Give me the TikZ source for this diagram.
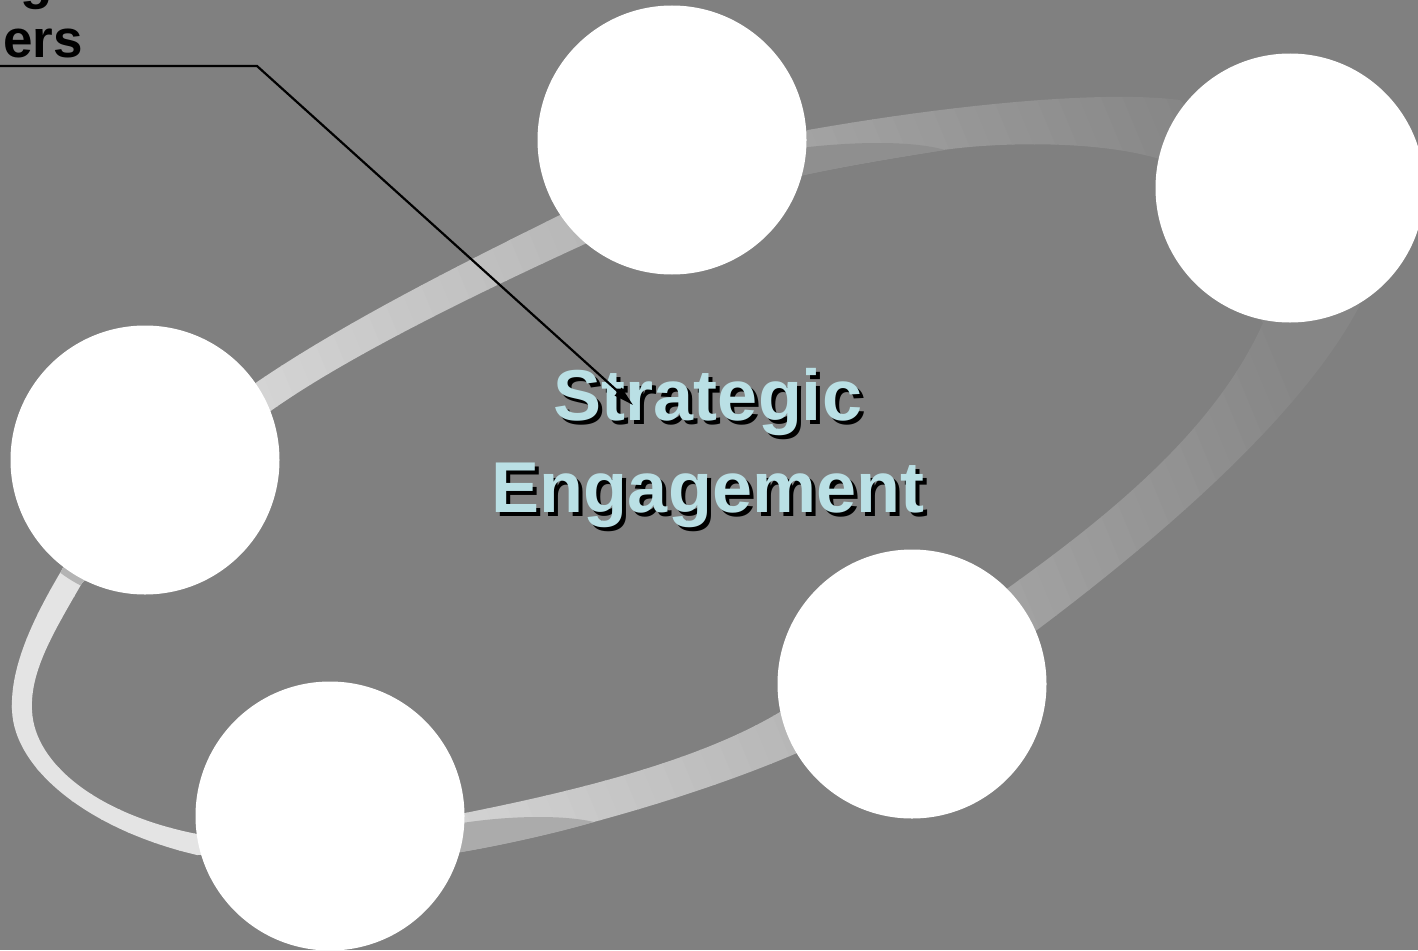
\documentclass[tikz,border=0pt]{standalone}
\usepackage{fontspec}
\setmainfont{Liberation Sans}
\usetikzlibrary{arrows.meta}
\definecolor{bg}{RGB}{128,128,128}
\definecolor{titleblue}{RGB}{186,224,229}
\definecolor{flapbot}{RGB}{171,171,171}
\definecolor{flaptop}{RGB}{143,143,143}
\definecolor{spot}{RGB}{180,180,180}
\begin{document}
\begin{tikzpicture}[x=1pt,y=-1pt,
  disc/.style={circle, fill=white, draw=none, inner sep=0pt, minimum size=269pt},
  lbl/.style={font=\fontsize{53}{60}\selectfont\bfseries, text=black, inner sep=0pt},
  ttl/.style={font=\fontsize{72}{93}\selectfont\bfseries, inner sep=0pt, anchor=base},
  connector/.style={line width=2.2pt, draw=black},
]
\fill[bg] (0,0) rectangle (1418,950);
\useasboundingbox (0,0) rectangle (1418,950);

% ring band (outer edge, then inner edge; even odd rule leaves the ribbon)
\begin{scope}[even odd rule]
\clip
  (63,568) .. controls (35,615) and (10,665) .. (12,710)
           .. controls (14,770) and (90,830) .. (197,855)
  -- (460,852) .. controls (560,835) and (700,795) .. (797,753)
  -- (1037,630) .. controls (1150,545) and (1300,420) .. (1360,305)
  -- (1180,100) .. controls (1100,90) and (950,105) .. (808,130)
  -- (560,215) .. controls (465,262) and (345,322) .. (257,382)
  -- cycle
  (82,583) .. controls (55,630) and (30,670) .. (32,710)
           .. controls (34,765) and (100,815) .. (197,834)
  -- (465,813) .. controls (580,790) and (700,760) .. (780,712)
  -- (1008,588) .. controls (1110,515) and (1215,430) .. (1263,323)
  -- (1163,160) .. controls (1100,140) and (1000,142) .. (943,150)
              .. controls (900,157) and (850,165) .. (803,175)
  -- (587,243) .. controls (480,292) and (350,355) .. (272,410)
  -- cycle;
\begin{scope}[rotate=22.5]
\foreach \s in {-320,-300,...,1180} {
  \pgfmathsetmacro\v{max(134,min(228,228-0.0817*(\s+110)))/255}
  \definecolor{bandc}{gray}{\v}
  \fill[bandc] (\s,-2000) rectangle ++(21,4000);
}
\end{scope}
\begin{scope}
\clip (40,540) rectangle (110,610);
\fill[spot] (145,460) circle (141);
\end{scope}
\end{scope}

% twisted inner faces of the ribbon
\fill[flapbot] (450,825) .. controls (500,816) and (560,814) .. (594,822) .. controls (560,832) and (505,845) .. (450,854) -- cycle;
\fill[flaptop] (800,148) .. controls (850,142) and (910,140) .. (945,150) .. controls (900,157) and (850,165) .. (800,176) -- cycle;

% circles
\node[disc] (n1) at (672,140) {};
\node[disc] (n2) at (1290,188) {};
\node[disc] (n3) at (145,460) {};
\node[disc] (n4) at (912,684) {};
\node[disc] (n5) at (330,816) {};

% label (cut by the page edge)
\node[lbl, anchor=base west] (lblg) at (20,-1) {g};
\node[lbl, anchor=base east] (lblers) at (83,57) {ers};

% title
\node[ttl, text=black] (t1s) at (712,424) {Strategic};
\node[ttl, text=black] (t2s) at (712,516) {Engagement};
\node[ttl, text=titleblue] (t1) at (708,420) {Strategic};
\node[ttl, text=titleblue] (t2) at (708,512) {Engagement};

% connector from label to centre
\coordinate (ulstart) at (0,66);
\coordinate (bend) at (257,66);
\coordinate (tip) at (633,405);
\draw[connector, -{Triangle[length=20pt,width=10pt]}] (ulstart) -- (bend) -- (tip);
\end{tikzpicture}
\end{document}
